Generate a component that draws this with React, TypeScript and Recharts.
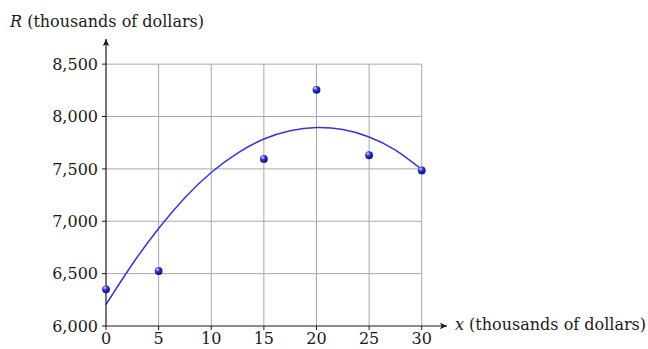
import {
  ComposedChart,
  Line,
  Scatter,
  XAxis,
  YAxis,
  ReferenceLine,
  ReferenceDot,
} from "recharts";

// observed points (x in thousands of dollars, R in thousands of dollars)
const pointX = [0, 5, 15, 20, 25, 30];
const pointR = [6350, 6525, 7595, 8255, 7630, 7485];

// fitted curve, every 2.5
const curveX = [0, 2.5, 5, 7.5, 10, 12.5, 15, 17.5, 20, 22.5, 25, 27.5, 30];
const curveR = [6205, 6590, 6930, 7225, 7465, 7650, 7785, 7865, 7895, 7875, 7805, 7680, 7495];

const xTicks = [0, 5, 10, 15, 20, 25, 30];
const yTicks = [6000, 6500, 7000, 7500, 8000, 8500];

const X_MAX = 32.4; // arrow tip
const Y_MAX = 8740; // arrow tip

const FONT = "DejaVu Serif";
const INK = "#1a1a1a";
const GRID = "#a8a8a8";

const points = pointX.map((x, i) => ({ x, r: pointR[i] }));
const curve = curveX.map((x, i) => ({ x, r: curveR[i] }));

const Ball = (props: any) => {
  const { cx, cy } = props;
  if (cx == null || cy == null) return null;
  return (
    <g>
      <defs>
        <radialGradient id="ball" cx="35%" cy="30%" r="75%">
          <stop offset="0%" stopColor="#d8d8ff" />
          <stop offset="40%" stopColor="#3030e0" />
          <stop offset="100%" stopColor="#0a0a70" />
        </radialGradient>
      </defs>
      <circle cx={cx} cy={cy} r={3.9} fill="url(#ball)" />
    </g>
  );
};

const ArrowRight = (p: any) => (
  <path d={`M${p.cx},${p.cy} l-7,-3.2 l1.6,3.2 l-1.6,3.2 z`} fill={INK} />
);
const ArrowUp = (p: any) => (
  <path d={`M${p.cx},${p.cy} l-3.2,7 l3.2,-1.6 l3.2,1.6 z`} fill={INK} />
);

export default function App() {
  return (
    <div style={{ position: "absolute", left: 0, top: 0, background: "#fff" }}>
      <ComposedChart
        width={648}
        height={349}
        margin={{ top: 39, right: 201, bottom: 0, left: 0 }}
      >
        <XAxis
          type="number"
          dataKey="x"
          domain={[0, X_MAX]}
          ticks={xTicks}
          interval={0}
          height={23}
          tickSize={4}
          tickMargin={3}
          axisLine={{ stroke: INK, strokeWidth: 1.2 }}
          tickLine={{ stroke: INK }}
          tick={{ fill: INK, fontSize: 16, fontFamily: FONT }}
          label={{
            content: (lp: any) => {
              const vb = lp.viewBox;
              return (
                <text
                  x={vb.x + vb.width + 8}
                  y={vb.y + 4}
                  fill={INK}
                  fontSize={16}
                  fontFamily={FONT}
                >
                  <tspan fontStyle="italic">x</tspan> (thousands of dollars)
                </text>
              );
            },
          }}
        />
        <YAxis
          type="number"
          domain={[6000, Y_MAX]}
          ticks={yTicks}
          interval={0}
          width={106}
          tickSize={4}
          tickMargin={4}
          tickFormatter={(v: number) => v.toLocaleString("en-US")}
          axisLine={{ stroke: INK, strokeWidth: 1.2 }}
          tickLine={{ stroke: INK }}
          tick={{ fill: INK, fontSize: 16, fontFamily: FONT }}
          label={{
            content: (lp: any) => {
              const vb = lp.viewBox;
              return (
                <text
                  x={vb.x + 10}
                  y={vb.y - 12}
                  fill={INK}
                  fontSize={16}
                  fontFamily={FONT}
                >
                  <tspan fontStyle="italic">R</tspan> (thousands of dollars)
                </text>
              );
            },
          }}
        />

        {xTicks.slice(1).map((t) => (
          <ReferenceLine
            key={`v${t}`}
            segment={[{ x: t, y: 6000 }, { x: t, y: 8500 }]}
            stroke={GRID}
            strokeWidth={1}
          />
        ))}
        {yTicks.slice(1).map((t) => (
          <ReferenceLine
            key={`h${t}`}
            segment={[{ x: 0, y: t }, { x: 30, y: t }]}
            stroke={GRID}
            strokeWidth={1}
          />
        ))}

        <ReferenceDot x={X_MAX} y={6000} r={0} ifOverflow="visible" shape={ArrowRight} />
        <ReferenceDot x={0} y={Y_MAX} r={0} ifOverflow="visible" shape={ArrowUp} />

        <Line
          data={curve}
          dataKey="r"
          type="natural"
          stroke="#3434e4"
          strokeWidth={1.5}
          dot={false}
          activeDot={false}
          isAnimationActive={false}
        />
        <Scatter
          data={points}
          dataKey="r"
          shape={Ball}
          isAnimationActive={false}
        />
      </ComposedChart>
    </div>
  );
}
